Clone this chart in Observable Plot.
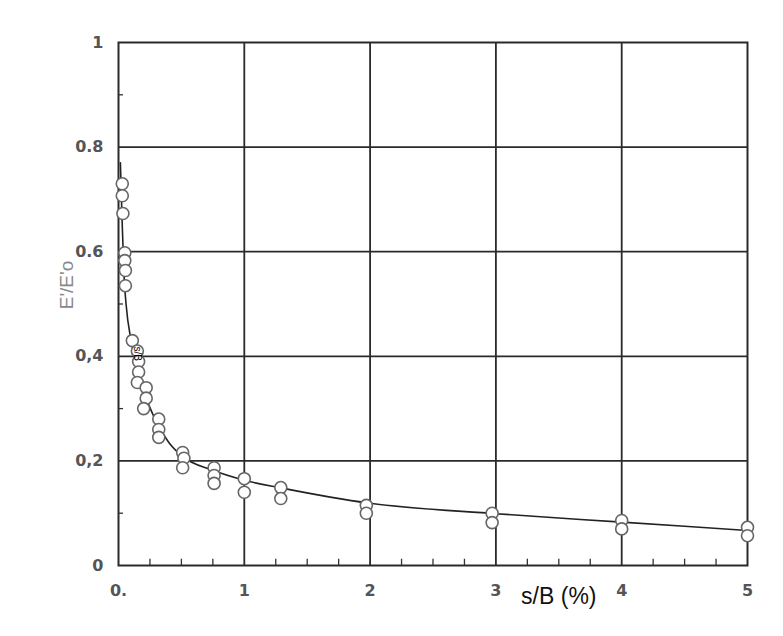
<!DOCTYPE html>
<html>
<head>
<meta charset="utf-8">
<script src="https://cdn.jsdelivr.net/npm/d3@7"></script>
<script src="https://cdn.jsdelivr.net/npm/@observablehq/plot@0.6"></script>
<style>
  html, body { margin: 0; padding: 0; background: #fff; }
  #chart { width: 783px; height: 636px; }
</style>
</head>
<body>
<div id="chart"></div>
<script>
// Measured points: s/B (%) and E'/E'o
const pointX = [0.03, 0.03, 0.035, 0.05, 0.05, 0.055, 0.055,
                0.11, 0.15, 0.16, 0.16, 0.15, 0.22, 0.22, 0.2,
                0.32, 0.32, 0.32, 0.51, 0.52, 0.51, 0.76, 0.76, 0.76,
                1.0, 1.0, 1.29, 1.29, 1.97, 1.97, 2.97, 2.97, 4.0, 4.0, 5.0, 5.0];
const pointY = [0.73, 0.707, 0.673, 0.598, 0.583, 0.564, 0.535,
                0.43, 0.41, 0.39, 0.37, 0.35, 0.34, 0.32, 0.30,
                0.28, 0.26, 0.245, 0.216, 0.205, 0.187, 0.187, 0.172, 0.157,
                0.166, 0.14, 0.149, 0.128, 0.115, 0.10, 0.10, 0.082, 0.086, 0.07, 0.073, 0.057];

// Fitted curve drawn through the data
const curveX = [0.015, 0.03, 0.045, 0.06, 0.1, 0.15, 0.2, 0.3, 0.4, 0.5, 0.75, 1, 1.3, 2, 3, 4, 5];
const curveY = [0.77, 0.65, 0.55, 0.5, 0.43, 0.38, 0.335, 0.275, 0.235, 0.21, 0.182, 0.163, 0.148, 0.119, 0.099, 0.083, 0.067];

// Ticks
const xTicks = [0, 1, 2, 3, 4, 5];
const xTickLabels = ["0.", "1", "2", "3", "4", "5"];
const yTicks = [0, 0.2, 0.4, 0.6, 0.8, 1];
const yTickLabels = ["0", "0,2", "0,4", "0.6", "0.8", "1"];
const xGrid = [1, 2, 3, 4];
const yGrid = [0.2, 0.4, 0.6, 0.8];
const xMinor = [0.25, 0.5, 0.75, 1.25, 1.5, 1.75, 2.25, 2.5, 2.75, 3.25, 3.5, 3.75, 4.25, 4.5, 4.75];
const yMinor = [0.1, 0.3, 0.5, 0.7, 0.9];

const points = pointX.map((x, i) => ({x, y: pointY[i]}));
const curve = curveX.map((x, i) => ({x, y: curveY[i]}));

const tickFont = "DejaVu Sans, Liberation Sans, Arial, sans-serif";

const chart = Plot.plot({
  width: 783,
  height: 636,
  marginLeft: 118,
  marginRight: 36,
  marginTop: 42,
  marginBottom: 71,
  x: {domain: [0, 5], axis: null},
  y: {domain: [0, 1], axis: null},
  style: {background: "#fff", fontFamily: "Liberation Sans, Arial, sans-serif"},
  marks: [
    Plot.ruleX(xGrid, {stroke: "#2a2a2a", strokeWidth: 1.8}),
    Plot.ruleY(yGrid, {stroke: "#2a2a2a", strokeWidth: 1.8}),
    Plot.ruleX(xMinor, {y1: 0, y2: 0.012, stroke: "#333", strokeWidth: 1.3}),
    Plot.ruleY(yMinor, {x1: 0, x2: 0.04, stroke: "#333", strokeWidth: 1.3}),
    Plot.frame({stroke: "#2a2a2a", strokeWidth: 2}),
    Plot.line(curve, {x: "x", y: "y", curve: "monotone-x", stroke: "#222", strokeWidth: 1.6}),
    Plot.dot(points, {x: "x", y: "y", r: 6, fill: "#fff", stroke: "#666", strokeWidth: 1.6}),
    Plot.text(yTicks, {x: 0, y: d => d, text: (d, i) => yTickLabels[i], textAnchor: "end", dx: -15,
      fontSize: 16, fontWeight: "bold", fill: "#555", fontFamily: tickFont}),
    Plot.text(xTicks, {x: d => d, y: 0, text: (d, i) => xTickLabels[i], dy: 25,
      fontSize: 16, fontWeight: "bold", fill: "#555", fontFamily: tickFont}),
    Plot.text(["s/B"], {x: 0.15, y: 0.405, text: d => d, rotate: 90, fontSize: 10, fill: "#000"}),
    Plot.text(["E'/E'o"], {frameAnchor: "left", x: null, y: 0.49, text: d => d, rotate: -90, dx: -52,
      fontSize: 19, fill: "#888"}),
    Plot.text(["s/B (%)"], {x: 3.5, y: 0, text: d => d, dy: 31, fontSize: 23, fill: "#111"})
  ]
});

document.getElementById("chart").appendChild(chart);
</script>
</body>
</html>
